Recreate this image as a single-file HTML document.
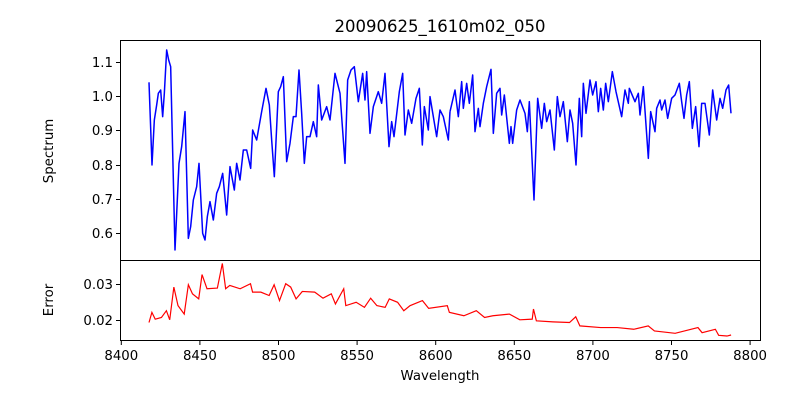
<!DOCTYPE html>
<html><head><style>body{margin:0;background:#fff}svg{display:block}text{font-family:"DejaVu Sans","Liberation Sans",sans-serif;fill:#000}</style></head>
<body>
<svg width="800" height="400" xmlns="http://www.w3.org/2000/svg">
<rect width="800" height="400" fill="#fff"/>
<text x="440" y="32" font-size="16.5" text-anchor="middle">20090625_1610m02_050</text>
<g fill="none" stroke="#0000ff" stroke-width="1.5" stroke-linejoin="round">
<polyline vector-effect="non-scaling-stroke" transform="translate(120,40) scale(0.33333)" points="87,127 96,375 103,240 110,195 115,160 122,150 128,230 133,160 140,30 146,60 152,80 165,630 177,370 185,320 195,215 205,595 212,560 220,480 230,440 237,370 248,580 255,600 262,530 270,485 280,540 290,460 298,440 308,400 320,525 330,380 343,450 350,370 360,420 370,330 380,330 392,385 398,270 410,300 425,215 438,145 448,195 455,300 463,410 475,155 482,140 490,110 500,365 510,310 520,230 528,230 537,90 545,220 553,370 560,290 570,290 580,245 590,290 595,135 605,240 620,200 630,240 645,100 660,160 675,370 683,120 693,90 703,80 715,185 728,100 735,180 740,95 750,280 760,200 775,155 785,190 795,100 807,320 815,245 822,290 838,155 848,100 855,285 865,210 875,250 888,175 898,145 907,315 913,200 925,270 930,170 950,290 960,210 970,230 985,300 990,215"/>
<polyline vector-effect="non-scaling-stroke" transform="translate(440,40) scale(0.33333)" points="30,215 45,150 55,230 65,125 70,205 80,130 88,190 98,105 105,275 115,205 120,260 130,190 140,140 153,88 160,280 170,160 180,145 185,225 193,165 208,310 213,260 218,310 230,210 240,180 255,220 262,275 268,185 282,480 293,175 305,265 313,190 320,245 330,210 343,330 352,170 360,230 370,185 382,305 390,210 398,250 408,375 418,175 425,290 430,130 438,220 450,120 458,165 468,125 475,215 482,145 490,210 497,130 505,185 517,95 528,155 545,230 555,150 565,190 568,145 585,185 595,160 600,225 610,140 625,355 632,215 645,275 650,205 660,180 665,210 675,180 683,235 695,175 705,165 718,130 725,185 732,235 740,165 748,125 757,265 767,200 777,320 785,190 795,190 808,285 818,150 830,240 840,175 848,205 858,150 866,135 873,220"/>
</g>
<polyline fill="none" stroke="#ff0000" stroke-width="1.2" vector-effect="non-scaling-stroke" transform="translate(120,255) scale(0.4143,0.3376)" points="70,200 77,170 85,190 100,185 112,165 120,192 130,95 140,150 155,175 165,88 175,115 190,130 198,58 210,100 235,98 247,25 255,100 265,90 290,100 315,85 320,110 340,110 360,120 372,88 385,135 400,85 412,95 425,130 440,108 470,110 490,128 510,115 520,145 540,100 545,150 570,140 590,155 605,128 620,150 640,155 650,130 670,140 685,165 700,150 730,135 745,158 790,150 795,170 830,180 860,165 880,185 900,180 940,175 965,192 995,190 998,160 1005,195 1045,198 1085,200 1100,183 1110,210 1160,215 1200,215 1240,220 1275,210 1290,225 1340,232 1395,215 1405,230 1437,220 1445,238 1465,240 1475,237"/>
<g fill="none" stroke="#000" stroke-width="1">
<rect x="120.5" y="40.5" width="640" height="220"/>
<rect x="120.5" y="260.5" width="640" height="80"/>
<path d="M116,62.5h4M116,96.5h4M116,130.5h4M116,165.5h4M116,199.5h4M116,233.5h4M116,284.5h4M116,320.5h4"/>
<path d="M121.3,341v4M199.9,341v4M278.5,341v4M357.1,341v4M435.7,341v4M514.3,341v4M592.9,341v4M671.5,341v4M750.1,341v4"/>
</g>
<g font-size="13.3" text-anchor="end">
<text x="113" y="67">1.1</text><text x="113" y="101">1.0</text><text x="113" y="135">0.9</text><text x="113" y="170">0.8</text><text x="113" y="204">0.7</text><text x="113" y="238">0.6</text>
<text x="113" y="289">0.03</text><text x="113" y="325">0.02</text>
</g>
<g font-size="13.3" text-anchor="middle">
<text x="121.3" y="360">8400</text><text x="199.9" y="360">8450</text><text x="278.5" y="360">8500</text><text x="357.1" y="360">8550</text><text x="435.7" y="360">8600</text><text x="514.3" y="360">8650</text><text x="592.9" y="360">8700</text><text x="671.5" y="360">8750</text><text x="750.1" y="360">8800</text>
<text x="440" y="380">Wavelength</text>
<text transform="translate(53,151) rotate(-90)">Spectrum</text>
<text transform="translate(53,300) rotate(-90)">Error</text>
</g>
</svg>
</body></html>
